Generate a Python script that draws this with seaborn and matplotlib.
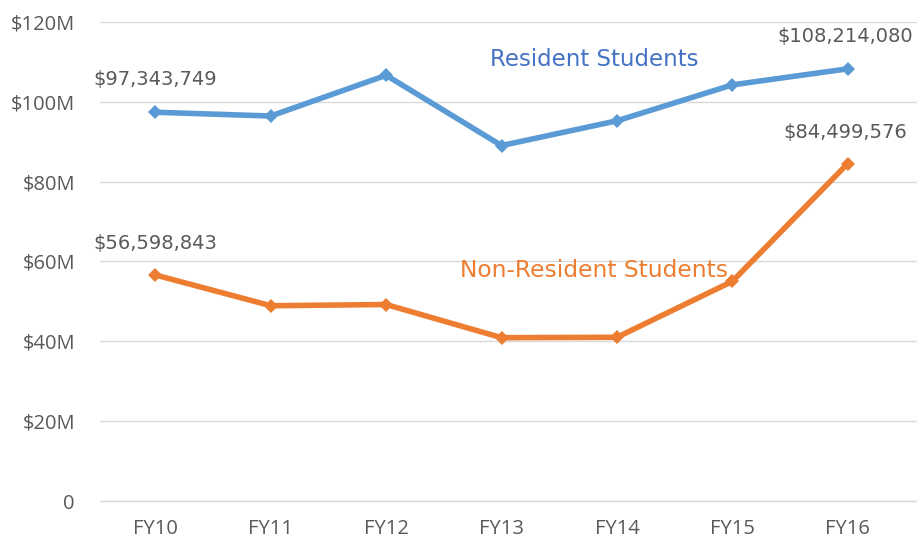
import matplotlib
matplotlib.use("Agg")
import matplotlib.pyplot as plt
import seaborn as sns
import pandas as pd
from matplotlib.ticker import FuncFormatter

# values, in $M
years = ['FY10', 'FY11', 'FY12', 'FY13', 'FY14', 'FY15', 'FY16']
resident = [97.343749, 96.4, 106.6, 89.0, 95.2, 104.2, 108.21408]
non_resident = [56.598843, 48.9, 49.2, 40.9, 41.0, 55.0, 84.499576]
yticks = [0, 20, 40, 60, 80, 100, 120]

sns.set_theme(style='white')
plt.rcParams['font.family'] = ['Liberation Sans Narrow', 'DejaVu Sans']

df = pd.DataFrame({
    'year': years * 2,
    'value': resident + non_resident,
    'group': ['Resident Students'] * len(years) + ['Non-Resident Students'] * len(years),
})

blue = '#5B9BD5'
orange = '#ED7D31'
grey = '#595959'

fig = plt.figure(figsize=(9.17, 5.44), dpi=100)
ax = fig.add_axes([0.109, 0.079, 0.891, 0.881])

sns.lineplot(data=df, x='year', y='value', hue='group',
             palette={'Resident Students': blue, 'Non-Resident Students': orange},
             marker='D', markersize=7, markeredgewidth=0, linewidth=4,
             legend=False, ax=ax, sort=False)

ax.set_ylim(0, 120)
ax.set_xlim(-0.48, 6.6)
ax.set_yticks(yticks)
ax.yaxis.set_major_formatter(FuncFormatter(lambda v, p: '0' if v == 0 else f'${v:.0f}M'))
ax.grid(axis='y', color='#D9D9D9', linewidth=1)
ax.axhline(0, color='#D9D9D9', linewidth=1, clip_on=False, zorder=0)
ax.set_axisbelow(True)
for s in ax.spines.values():
    s.set_visible(False)
ax.tick_params(axis='both', length=0, labelsize=14.5, labelcolor=grey)
ax.tick_params(axis='y', pad=18)
ax.tick_params(axis='x', pad=13)
for lbl in ax.get_xticklabels() + ax.get_yticklabels():
    lbl.set_family(['Open Sans', 'DejaVu Sans'])
ax.set_xlabel('')
ax.set_ylabel('')

# data labels on first and last points
lab_kw = dict(fontsize=14, color=grey, ha='center', va='center')
ax.text(0, resident[0] + 8.3, f'${resident[0]*1e6:,.0f}', **lab_kw)
ax.text(5.98, resident[-1] + 8.2, f'${resident[-1]*1e6:,.0f}', **lab_kw)
ax.text(0, non_resident[0] + 8.0, f'${non_resident[0]*1e6:,.0f}', **lab_kw)
ax.text(5.98, non_resident[-1] + 7.8, f'${non_resident[-1]*1e6:,.0f}', **lab_kw)

ax.text(3.8, 110.6, 'Resident Students', fontsize=16.5, color='#4472C4', ha='center', va='center')
ax.text(3.8, 57.6, 'Non-Resident Students', fontsize=16.8, color=orange, ha='center', va='center')

fig.savefig('out.png', dpi=100)
